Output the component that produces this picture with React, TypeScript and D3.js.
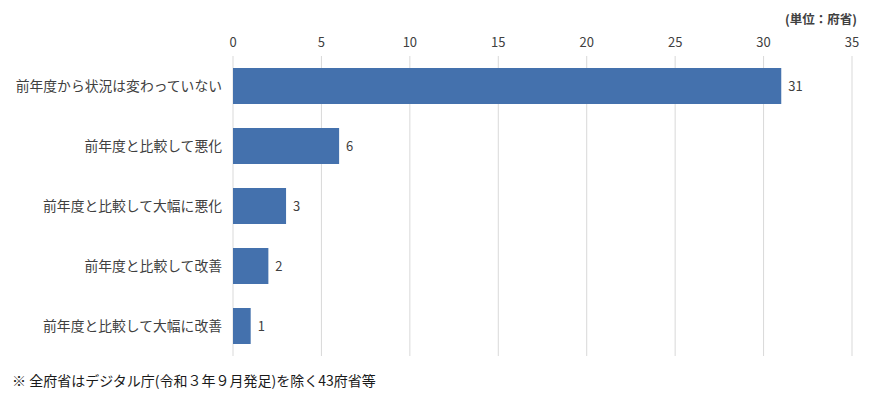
import * as d3 from "d3";
import { useEffect, useRef } from "react";

const WIDTH = 870;
const HEIGHT = 404;

const CATEGORIES = [
  "前年度から状況は変わっていない",
  "前年度と比較して悪化",
  "前年度と比較して大幅に悪化",
  "前年度と比較して改善",
  "前年度と比較して大幅に改善",
];
const VALUES = [31, 6, 3, 2, 1];
const X_TICKS = [0, 5, 10, 15, 20, 25, 30, 35];
const UNIT_LABEL = "(単位：府省)";
const NOTE = "※ 全府省はデジタル庁(令和３年９月発足)を除く43府省等";

const BAR_COLOR = "#4471ad";
const TEXT_COLOR = "#404040";
const FONT = "'Noto Sans CJK JP', 'Noto Sans', sans-serif";

export default function App() {
  const ref = useRef<SVGSVGElement | null>(null);

  useEffect(() => {
    const svg = d3.select(ref.current);
    svg.selectAll("*").remove();

    const x = d3.scaleLinear().domain([0, 35]).range([233, 852]);
    const y = d3
      .scaleBand<string>()
      .domain(CATEGORIES)
      .range([56, 356])
      .paddingInner(0.4)
      .paddingOuter(0.2);

    // grid
    svg
      .append("g")
      .selectAll("line")
      .data(X_TICKS)
      .join("line")
      .attr("x1", (d) => x(d))
      .attr("x2", (d) => x(d))
      .attr("y1", 56)
      .attr("y2", 356)
      .attr("stroke", "#d9d9d9")
      .attr("stroke-width", 1);

    // tick labels
    svg
      .append("g")
      .selectAll("text")
      .data(X_TICKS)
      .join("text")
      .attr("x", (d) => x(d))
      .attr("y", 47)
      .attr("text-anchor", "middle")
      .attr("font-size", 13)
      .attr("fill", TEXT_COLOR)
      .text((d) => String(d));

    // bars
    svg
      .append("g")
      .selectAll("rect")
      .data(VALUES)
      .join("rect")
      .attr("x", x(0))
      .attr("y", (_, i) => y(CATEGORIES[i]) ?? 0)
      .attr("width", (d) => x(d) - x(0))
      .attr("height", y.bandwidth())
      .attr("fill", BAR_COLOR);

    // value labels
    svg
      .append("g")
      .selectAll("text")
      .data(VALUES)
      .join("text")
      .attr("x", (d) => x(d) + 7)
      .attr("y", (_, i) => (y(CATEGORIES[i]) ?? 0) + y.bandwidth() / 2)
      .attr("dy", "0.35em")
      .attr("font-size", 13)
      .attr("fill", TEXT_COLOR)
      .text((d) => String(d));

    // category labels
    svg
      .append("g")
      .selectAll("text")
      .data(CATEGORIES)
      .join("text")
      .attr("x", 222)
      .attr("y", (d) => (y(d) ?? 0) + y.bandwidth() / 2)
      .attr("dy", "0.35em")
      .attr("text-anchor", "end")
      .attr("font-size", 13.8)
      .attr("fill", TEXT_COLOR)
      .text((d) => d);

    svg
      .append("text")
      .attr("x", 857)
      .attr("y", 24)
      .attr("text-anchor", "end")
      .attr("font-size", 12.5)
      .attr("font-weight", 700)
      .attr("fill", TEXT_COLOR)
      .text(UNIT_LABEL);

    svg
      .append("text")
      .attr("x", 12)
      .attr("y", 386)
      .attr("font-size", 14)
      .attr("fill", "#1a1a1a")
      .text(NOTE);
  }, []);

  return (
    <div style={{ position: "absolute", left: 0, top: 0, background: "#fff" }}>
      <svg
        ref={ref}
        width={WIDTH}
        height={HEIGHT}
        style={{ fontFamily: FONT, display: "block" }}
      />
    </div>
  );
}
